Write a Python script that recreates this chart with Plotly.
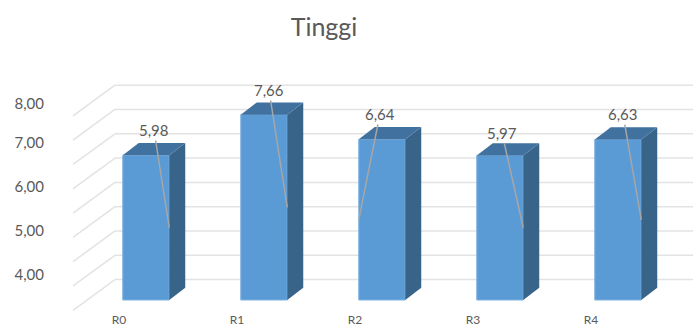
import numpy as np
import plotly.graph_objects as go

categories = ["R0", "R1", "R2", "R3", "R4"]
values = [5.98, 7.66, 6.64, 5.97, 6.63]
value_labels = ["5,98", "7,66", "6,64", "5,97", "6,63"]
grid_values = [0, 1, 2, 3, 4, 5, 6, 7, 8]
y_tick_text = ["8,00", "7,00", "6,00", "5,00", "4,00"]
y_tick_pixels = [104, 143, 187, 231, 275]

W, H = 693, 327
PX_PER_CAT = 118.0
PX_PER_UNIT = 24.2
X0_PX = 146.0      # pixel centre of first bar
Y0_PX = 300.0      # pixel of bar base
LEFT, BOTTOM_PX = 48, 311

to_x = lambda px: (px - X0_PX) / PX_PER_CAT
to_y = lambda py: (Y0_PX - py) / PX_PER_UNIT
dx = lambda px: px / PX_PER_CAT
dy = lambda px: px / PX_PER_UNIT

bar_w = dx(46.5)
depth_x, depth_y = dx(16), dy(12.2)
x = np.arange(len(categories), dtype=float)

FRONT, TOP, SIDE = "#5B9BD5", "#41719F", "#39648A"
GRID, LEADER, TEXT = "#E3E3E3", "#A6A6A6", "#595959"
FONT = "Lato"

fig = go.Figure()
fig.add_trace(go.Bar(x=x, y=values, width=bar_w, marker=dict(color=FRONT, line=dict(color="#7FB2E0", width=1)),
                     hoverinfo="skip", showlegend=False))
for xi, v in zip(x, values):
    l, r = xi - bar_w / 2, xi + bar_w / 2
    fig.add_trace(go.Scatter(x=[r, r + depth_x, r + depth_x, r, r],
                             y=[0, depth_y, v + depth_y, v, 0],
                             mode="lines", fill="toself", fillcolor=SIDE, line=dict(width=0),
                             hoverinfo="skip", showlegend=False))
    fig.add_trace(go.Scatter(x=[l, l + depth_x, r + depth_x, r, l],
                             y=[v, v + depth_y, v + depth_y, v, v],
                             mode="lines", fill="toself", fillcolor=TOP, line=dict(width=0),
                             hoverinfo="skip", showlegend=False))

# back wall and side wall gridlines
wall_shift = (Y0_PX - 279.5) / 24.3
shapes = []
for g in grid_values:
    back_y = g * 24.3 / PX_PER_UNIT + wall_shift
    front_y = back_y - dy(30.7)
    path_x, path_y = [to_x(73), to_x(115), to_x(693)], [front_y, back_y, back_y]
    for i in range(2):
        shapes.append(dict(type="line", xref="x", yref="y", layer="below",
                           x0=path_x[i], y0=path_y[i], x1=path_x[i + 1], y1=path_y[i + 1],
                           line=dict(color=GRID, width=1.5)))

# data labels with leader lines: anchor at mid-height of the bar edge
label_px = [(154, 130), (269, 90), (380, 114), (502, 133), (623, 114)]
anchor_side = [1, 1, -1, 1, 1]
annotations = []
for i, (v, t) in enumerate(zip(values, value_labels)):
    ax_data = x[i] + anchor_side[i] * bar_w / 2
    ay_data = v / 2
    px_x = X0_PX + ax_data * PX_PER_CAT
    px_y = Y0_PX - ay_data * PX_PER_UNIT
    annotations.append(dict(x=ax_data, y=ay_data, xref="x", yref="y", text=t,
                            ax=label_px[i][0] - px_x, ay=label_px[i][1] - px_y,
                            axref="pixel", ayref="pixel",
                            showarrow=True, arrowhead=0, arrowwidth=1.5, arrowcolor=LEADER,
                            font=dict(family=FONT, size=15, color=TEXT)))

fig.update_layout(
    width=W, height=H,
    margin=dict(l=LEFT, r=0, t=0, b=H - BOTTOM_PX, pad=0, autoexpand=False),
    paper_bgcolor="white", plot_bgcolor="white",
    title=dict(text="Tinggi", x=324 / W, xanchor="center", y=1 - 27 / H, yanchor="middle",
               automargin=False, font=dict(family=FONT, size=25, color=TEXT)),
    shapes=shapes, annotations=annotations, showlegend=False,
    xaxis=dict(range=[to_x(LEFT), to_x(W)], showgrid=False, zeroline=False, showline=False, automargin=False,
               tickmode="array", tickvals=list(x - dx(27)), ticktext=categories,
               ticks="", ticklabelstandoff=0, tickfont=dict(family=FONT, size=12, color=TEXT)),
    yaxis=dict(range=[to_y(BOTTOM_PX), to_y(0)], showgrid=False, zeroline=False, showline=False, automargin=False,
               tickmode="array", tickvals=[to_y(p) for p in y_tick_pixels], ticktext=y_tick_text,
               ticks="", ticklabelstandoff=3, tickfont=dict(family=FONT, size=15, color=TEXT)),
)
fig.write_html("out.html", config=dict(displayModeBar=False),
               post_script="document.body.style.margin='0';")
